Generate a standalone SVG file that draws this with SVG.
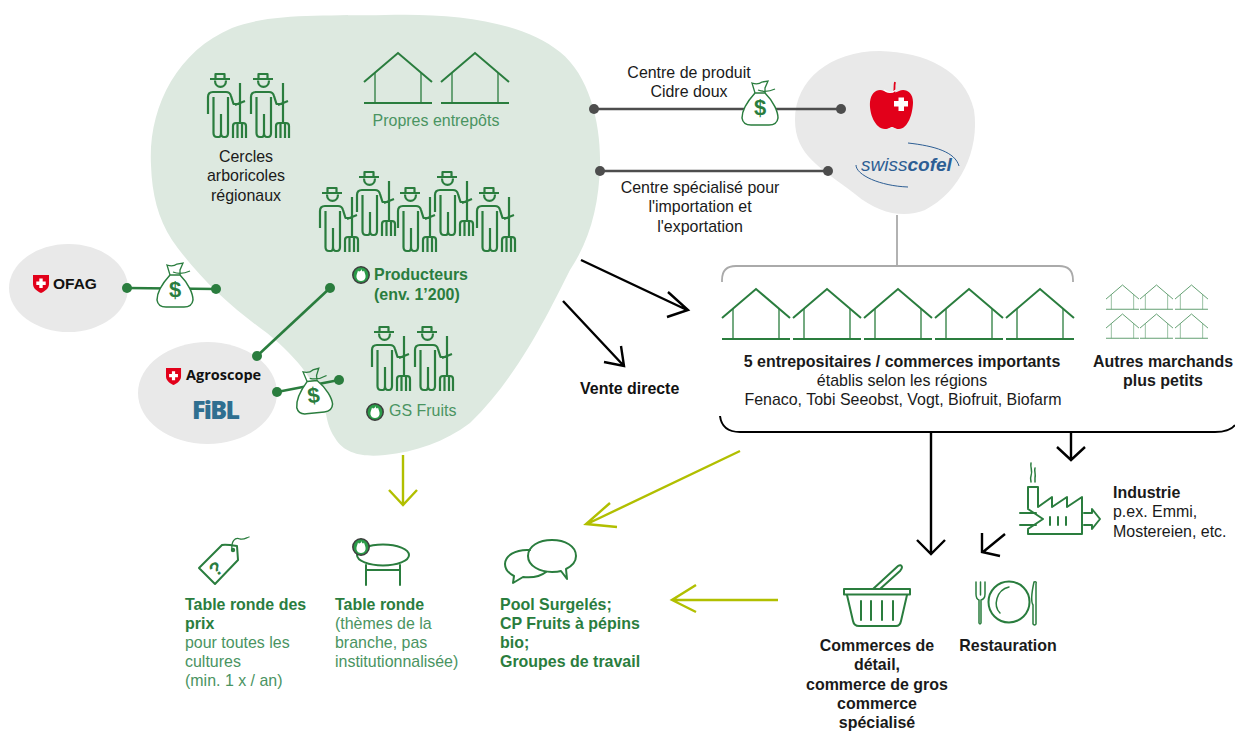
<svg xmlns="http://www.w3.org/2000/svg" width="1235" height="733" viewBox="0 0 1235 733">
<style>
text{font-family:"Liberation Sans",Arial,sans-serif;font-size:15.960px;fill:#1a1a1a}
.b{font-weight:700}
.m{text-anchor:middle}
.g{fill:#2a7d3e}
.lg{fill:#4a9462}
.ic{fill:none;stroke:#2a7d3e;stroke-width:2;stroke-linecap:round;stroke-linejoin:round}
.bl{fill:none;stroke:#000;stroke-width:2.4}
.ol{fill:none;stroke:#b1bf00;stroke-width:2.4}
.gl{fill:none;stroke:#2a7d3e;stroke-width:2.6}
.dl{fill:none;stroke:#4d4d4d;stroke-width:2.6}
.gy{fill:none;stroke:#aaa;stroke-width:1.800}
.dd{fill:#2a7d3e}
.dk{fill:#4d4d4d}
</style>
<defs>
<g id="farmer" class="ic" style="stroke-width:2.200;stroke-linecap:butt">
<path d="M3 6H23M8.500 6V1H17.500V6M8 7.500C8 16 19 16 19 7.500"/>
<path d="M1 41V24Q1 19 6 19H19Q23 19 24 23L26.500 31H33M28 32L38 28"/>
<path d="M6.500 24V60Q6.500 64 10 64H12Q14 64 14 60V41M14 60Q14 64 17 64H18Q21 64 21 60V24"/>
<path d="M33 10V50M26 65V53Q26 50 29 50H36Q39 50 39 53V65M30.500 50V65M35 50V65"/>
</g>
<g id="house" fill="none" stroke="#2a7d3e">
<path d="M0 29L34 0L68 29M0 50H68" stroke-width="2"/>
<path d="M11 20V50M57 20V50" stroke-width="2" stroke-opacity=".65"/>
</g>
<g id="bag">
<path d="M13 13C3 24 0 32 0 38Q1 45 9 45H27Q35 45 36 38C36 32 32 22 23 13Z" fill="#fff" stroke="#2a7d3e" stroke-width="1.500"/>
<path d="M13 13L10 3Q16 5 20 2L26 1L23 8L23 13M16 10Q24 13 33 9" fill="none" stroke="#2a7d3e" stroke-width="1.300"/>
<text x="18" y="35" text-anchor="middle" style="font-size:22px;font-weight:700;fill:#2a7d3e">$</text>
</g>
<g id="bud">
<circle r="8.200" fill="#2a9a48" stroke="#3d3d3d" stroke-width="1.500"/>
<path d="M0.500 -6C1 -3 2.500 -3 3 -4.500C3.500 -2 5 0 4.500 2.500C4 5 2 6 0 6C-2 6 -4 5 -4.500 2.500C-5 0 -3.500 -2 -3 -4.500C-2.500 -3 -0.500 -3 0.500 -6Z" fill="#fff"/>
</g>
<g id="shield">
<path d="M0 0H16V9C16 14 11 16.500 8 18C5 16.500 0 14 0 9Z" fill="#e2001a"/>
<path d="M6.300 3.500H9.700V6.500H12.700V9.900H9.700V12.900H6.300V9.900H3.300V6.500H6.300Z" fill="#fff"/>
</g>
</defs>

<g id="zone-producteurs">
<path d="M151 165C148 110 175 52 232 28C270 13 325 16 385 15C450 13 520 20 560 52C590 76 601 125 600 165C599 205 590 240 570 270C552 305 520 375 470 423C445 442 415 452 385 455C365 457 345 455 335 438C328 428 327 418 326 414C318 385 300 360 267 333C235 310 200 280 172 240C158 218 152 195 151 165Z" fill="#dde9e0"/>
</g>

<g id="cercles">
<use href="#farmer" x="207" y="73"/><use href="#farmer" x="250" y="73"/>
<text class="m" x="246" y="162">Cercles</text>
<text class="m" x="246" y="181">arboricoles</text>
<text class="m" x="246" y="201">régionaux</text>
</g>
<g id="entrepots">
<use href="#house" x="364" y="53"/><use href="#house" x="441" y="53"/>
<text class="m lg" x="436" y="126">Propres entrepôts</text>
</g>
<g id="producteurs">
<use href="#farmer" x="319" y="187"/><use href="#farmer" x="356" y="171"/><use href="#farmer" x="397" y="187"/><use href="#farmer" x="434" y="171"/><use href="#farmer" x="476" y="187"/>
<use href="#bud" x="361" y="275"/>
<text class="b g" x="374" y="280">Producteurs</text>
<text class="b g" x="374" y="300">(env. 1’200)</text>
</g>
<g id="gs-fruits">
<use href="#farmer" x="371" y="326"/><use href="#farmer" x="414" y="326"/>
<use href="#bud" x="375" y="412"/>
<text class="lg" x="389" y="416">GS Fruits</text>
</g>

<g id="ofag">
<ellipse cx="68.500" cy="288" rx="59.500" ry="44" fill="#e9e9e9"/>
<use href="#shield" x="33" y="275"/>
<text class="b" x="53" y="289" style="font-size:15.500px;fill:#111">OFAG</text>
</g>

<g id="agroscope">
<ellipse cx="207.500" cy="393" rx="69.500" ry="51" fill="#e9e9e9"/>
<use href="#shield" transform="translate(166 368) scale(.94)"/>
<text x="186" y="380" style="font-family:'Open Sans',sans-serif;font-weight:700;font-size:14.500px;fill:#111">Agroscope</text>
<text x="192" y="419" textLength="48" style="font-family:'Open Sans',sans-serif;font-weight:800;font-size:25px;fill:#2f6f90">FiBL</text>
</g>

<g id="swisscofel-fruit-union">
<path d="M795 120C795 80 830 51 880 51C925 52 965 70 974 110C980 150 960 192 925 210C905 218 880 215 855 194C820 167 795 155 795 120Z" fill="#e9e9e9"/>
<path d="M884 91C878 88 871 92 870 102C869 113 875 129 885 129C889 129 890 127 892 127C894 127 895 129 899 129C908 129 913 113 913 102C913 92 905 88 899 91C895 93 889 93 884 91Z" fill="#e2001a"/>
<path d="M894 93C895 89 894 86 895 82" fill="none" stroke="#e2001a" stroke-width="1.800"/>
<path d="M884 90Q890 95 896 90" fill="none" stroke="#fff" stroke-width="1.200"/>
<path d="M898.500 97.500H904V101H908V106.500H904V111H898.500V106.500H894V101H898.500Z" fill="#fff"/>
<path d="M908 143C935 146 955 152 959 166" fill="none" stroke="#2d5e94" stroke-width="1"/>
<path d="M856 165C856 175 880 186 908 187" fill="none" stroke="#2d5e94" stroke-width="1"/>
<text x="861" y="171" style="font-size:19px;font-style:italic;fill:#2d5e94">swiss<tspan font-weight="700">cofel</tspan></text>
</g>

<g id="centre-produit">
<text class="m" x="689" y="78">Centre de produit</text>
<text class="m" x="689" y="97">Cidre doux</text>
</g>
<g id="centre-specialise">
<text class="m" x="700" y="193">Centre spécialisé pour</text>
<text class="m" x="700" y="212">l'importation et</text>
<text class="m" x="700" y="232">l'exportation</text>
</g>

<g id="entrepositaires">
<use href="#house" x="722" y="289"/><use href="#house" x="793" y="289"/><use href="#house" x="864" y="289"/><use href="#house" x="935" y="289"/><use href="#house" x="1006" y="289"/>
<text class="b m" x="902" y="367">5 entrepositaires / commerces importants</text>
<text class="m" x="902" y="386">établis selon les régions</text>
<text class="m" x="903" y="405">Fenaco, Tobi Seeobst, Vogt, Biofruit, Biofarm</text>
<path d="M720 416Q722 432 740 432H1215Q1230 432 1235 425" fill="none" stroke="#000" stroke-width="2"/>
</g>

<g id="autres-marchands">
<g opacity=".75">
<use href="#house" transform="translate(1106 285) scale(.485)"/><use href="#house" transform="translate(1140 285) scale(.485)"/><use href="#house" transform="translate(1175 285) scale(.485)"/>
<use href="#house" transform="translate(1106 314) scale(.485)"/><use href="#house" transform="translate(1140 314) scale(.485)"/><use href="#house" transform="translate(1175 314) scale(.485)"/>
</g>
<text class="b m" x="1163" y="367">Autres marchands</text>
<text class="b m" x="1163" y="386">plus petits</text>
</g>

<g id="industrie">
<g class="ic">
<path d="M1028 508V487H1038V507L1052 497V507L1067 497V507L1082 497V534H1028V530"/>
<path d="M1020 513H1036M1020 525H1036M1028 509L1043 519L1028 529"/>
<path d="M1084 513H1092V509L1100 519L1092 529V525H1084"/>
<path d="M1050 517V525M1058 517V525M1066 517V525"/>
<path d="M1031 463C1030 468 1033 470 1031 476C1030 479 1031 480 1031 482M1035 468C1034 471 1036 474 1035 478V482" style="stroke-width:1.500"/>
</g>
<text class="b" x="1113" y="498">Industrie</text>
<text x="1113" y="517">p.ex. Emmi,</text>
<text x="1113" y="537">Mostereien, etc.</text>
</g>

<g id="commerces">
<g class="ic">
<path d="M844 589H910V594.500H844Z"/>
<path d="M847 595L853 621Q854 626 859 626H896Q900 626 901 621L907 595"/>
<path d="M861 601V620M871 601V620M882 601V620M893 601V620"/>
<path d="M873 589L898 566Q901 564 902 567Q902 569 900 571L880 589"/>
</g>
<text class="b m" x="877" y="651">Commerces de</text>
<text class="b m" x="877" y="670">détail,</text>
<text class="b m" x="877" y="690">commerce de gros</text>
<text class="b m" x="877" y="709">commerce</text>
<text class="b m" x="877" y="728">spécialisé</text>
</g>

<g id="restauration">
<g class="ic">
<circle cx="1009" cy="602" r="20.500"/>
<path d="M1009 587C996 590 993 606 1000 613" style="stroke-width:1.500"/>
<path d="M976 582V594Q976 599 979 600V623Q980 625 981 623V600Q985 599 985 594V582M980.500 582V595" style="stroke-width:1.500"/>
<path d="M1034 582Q1037 581 1036 584V624Q1035 626 1033 624V605Q1030 600 1034 582Z" style="stroke-width:1.500"/>
</g>
<text class="b m" x="1008" y="651">Restauration</text>
</g>

<g id="table-prix">
<g class="ic">
<path d="M199 568L222 545Q225 544 237 546L238 560L215 584Z"/>
<path d="M232 550C231 541 235 537 240 539C244 540 246 538 249 537" style="stroke-width:1.300"/>
<circle cx="233" cy="550" r="1.200"/>
</g>
<text class="g" x="217" y="575" text-anchor="middle" transform="rotate(-40 217 570)" style="font-size:19px;font-weight:700">?</text>
<text class="b g" x="185" y="610">Table ronde des</text>
<text class="b g" x="185" y="629">prix</text>
<text class="lg" x="185" y="648">pour toutes les</text>
<text class="lg" x="185" y="667">cultures</text>
<text class="lg" x="185" y="686">(min. 1 x / an)</text>
</g>

<g id="table-ronde">
<g class="ic">
<ellipse cx="383" cy="555" rx="26" ry="10.500"/>
<path d="M366 565V585M400 565V585M366 570H400"/>
</g>
<use href="#bud" x="361" y="547"/>
<text class="b g" x="335" y="610">Table ronde</text>
<text class="lg" x="335" y="629">(thèmes de la</text>
<text class="lg" x="335" y="648">branche, pas</text>
<text class="lg" x="335" y="667">institutionnalisée)</text>
</g>

<g id="pool">
<g class="ic">
<path d="M530 550C515 549 505 556 505 564C505 570 510 574 514 576L513 583L523 577C532 578 541 576 546 572"/>
<path d="M552 540C539 540 528 546 528 556C528 566 540 572 552 572C555 572 558 572 561 571L567 579L566 569C572 566 576 562 576 556C576 546 565 540 552 540Z"/>
</g>
<text class="b g" x="500" y="610">Pool Surgelés;</text>
<text class="b g" x="500" y="629">CP Fruits à pépins</text>
<text class="b g" x="500" y="648">bio;</text>
<text class="b g" x="500" y="667">Groupes de travail</text>
</g>

<g id="vente-directe">
<text class="b" x="580" y="394" style="fill:#111">Vente directe</text>
</g>

<g id="connectors">
<path class="gy" d="M897 215V266"/>
<path class="gy" d="M722 282V280Q722 266 736 266H1059Q1073 266 1073 280V282"/>
<path class="dl" d="M594 109H841"/>
<path class="dl" d="M600 171H828"/>
<circle class="dk" cx="594" cy="109" r="5"/><circle class="dk" cx="841" cy="109" r="5"/>
<circle class="dk" cx="600" cy="171" r="5"/><circle class="dk" cx="828" cy="171" r="5"/>
<path class="gl" d="M127 288L216 289"/>
<path class="gl" d="M330 288L257 356"/>
<path class="gl" d="M277 392L339 380"/>
<circle class="dd" cx="127" cy="288" r="5"/><circle class="dd" cx="216" cy="289" r="5"/>
<circle class="dd" cx="330" cy="288" r="5"/><circle class="dd" cx="257" cy="356" r="5"/>
<circle class="dd" cx="277" cy="392" r="5"/><circle class="dd" cx="339" cy="380" r="5"/>
<path class="bl" d="M581 260L687 310M668 292L688 310L667 317"/>
<path class="bl" d="M563 301L623 365M621 346L624 366L604 362"/>
<path class="bl" d="M931 432V553M917 540L931 554L945 540"/>
<path class="bl" d="M1071 433V459M1057 447L1071 460L1085 447"/>
<path class="bl" d="M1005 534L983 552M982 533L982 552L1000 556"/>
<path class="ol" d="M403 455V504M389 490L403 505L417 490"/>
<path class="ol" d="M740 451L587 524M610 503L586 524L617 527"/>
<path class="ol" d="M778 600H673M696 585L672 600L696 612"/>
</g>

<g id="bag-ofag"><use href="#bag" x="157" y="262"/></g>
<g id="bag-agroscope"><use href="#bag" transform="translate(295 368) rotate(-6 18 22)"/></g>
<g id="bag-centre"><use href="#bag" transform="translate(742 80)"/></g>
</svg>
